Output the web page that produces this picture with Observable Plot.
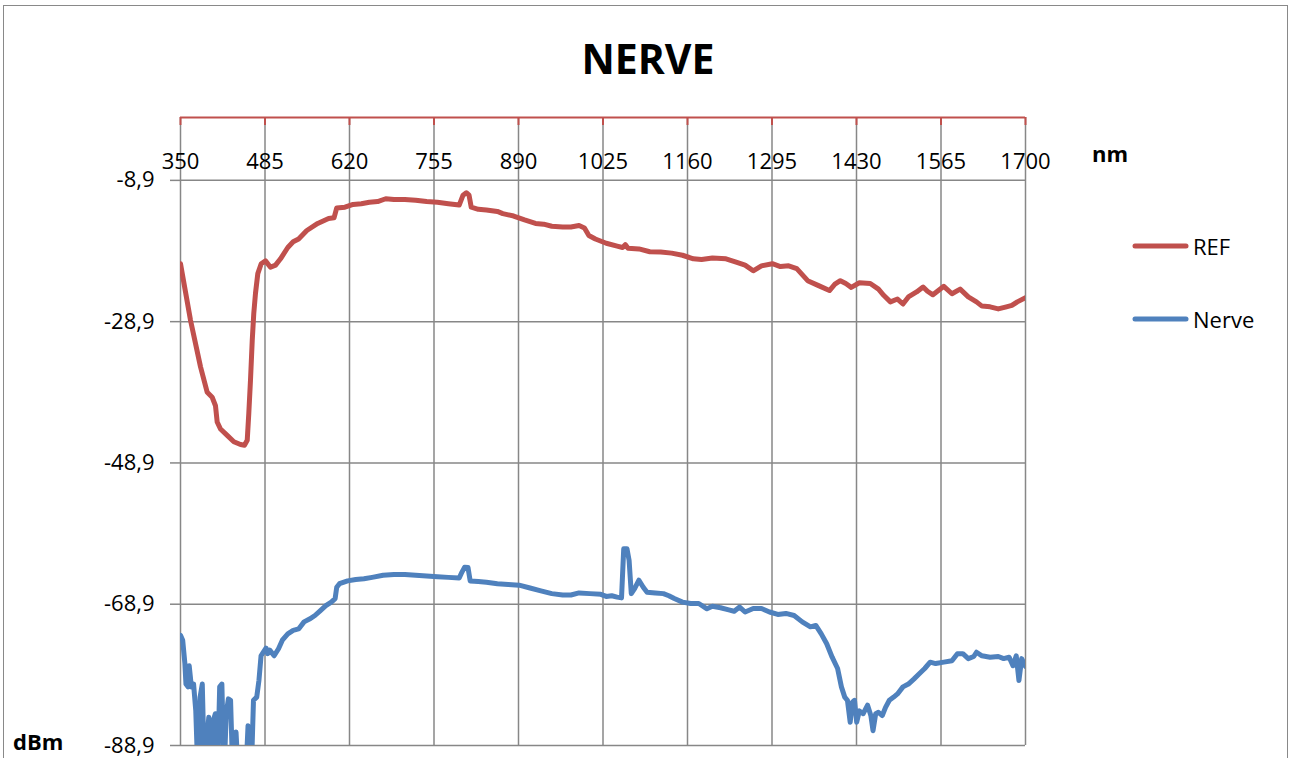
<!DOCTYPE html>
<html>
<head>
<meta charset="utf-8">
<script src="https://cdn.jsdelivr.net/npm/d3@7"></script>
<script src="https://cdn.jsdelivr.net/npm/@observablehq/plot@0.6"></script>
<style>
  body { margin: 0; background: #fff; }
  #chart { width: 1291px; height: 758px; overflow: hidden; }
</style>
</head>
<body>
<div id="chart"></div>
<script>
// Wavelength axis ticks (nm) and power axis ticks (dBm)
const xTicks = [350, 485, 620, 755, 890, 1025, 1160, 1295, 1430, 1565, 1700];
const yTicks = [-88.9, -68.9, -48.9, -28.9, -8.9];

const seriesNames = ["REF", "Nerve"];
const seriesColors = ["#C0504D", "#4F81BD"];

// Reference spectrum: [wavelength nm, power dBm]
const refPoints = [
  [350, -20.7], [366, -28.7], [382, -35.3], [392.7, -38.9], [400.6, -39.6], [405.9, -40.8],
  [408.6, -43.1], [413.9, -44.1], [424.6, -45.0], [435.2, -45.9], [445.9, -46.3], [452.2, -46.4],
  [456.6, -45.7], [459.1, -41.9], [461.8, -37.2], [464.6, -31.6], [467.1, -27.7], [469.8, -24.9],
  [473.5, -22.1], [478.9, -20.7], [485.8, -20.3], [493.8, -21.2], [501.8, -20.9], [509.8, -20.0],
  [521.4, -18.4], [530.0, -17.6], [538.7, -17.2], [551.8, -16.0], [569.2, -15.0], [586.6, -14.3],
  [595.3, -14.2], [599.6, -12.8], [612.7, -12.7], [625.7, -12.3], [638.8, -12.2], [651.8, -12.0],
  [664.9, -11.9], [677.9, -11.5], [691.0, -11.6], [708.4, -11.6], [725.8, -11.7], [743.2, -11.9],
  [760.5, -12.0], [777.9, -12.2], [795.3, -12.4], [801.4, -11.0], [806.6, -10.65], [811.0, -11.0],
  [814.5, -12.7], [825.8, -13.0], [838.8, -13.1], [856.2, -13.3], [864.9, -13.6], [882.3, -13.95],
  [899.7, -14.5], [917.1, -15.0], [930.2, -15.1], [943.2, -15.4], [960.6, -15.5], [973.7, -15.5],
  [986.7, -15.3], [995.4, -15.65], [1002.4, -16.7], [1012.8, -17.2], [1030.2, -17.8], [1047.6, -18.2],
  [1056.3, -18.4], [1060.6, -18.0], [1065.0, -18.5], [1082.4, -18.6], [1099.8, -19.0], [1117.2, -19.05],
  [1134.6, -19.2], [1152.0, -19.5], [1169.4, -20.0], [1182.4, -20.1], [1199.8, -19.9], [1221.5, -20.0],
  [1238.9, -20.5], [1252.0, -20.9], [1265.0, -21.7], [1278.1, -21.0], [1295.5, -20.7], [1308.5, -21.1],
  [1321.6, -21.0], [1334.6, -21.4], [1352.0, -23.1], [1369.4, -23.8], [1386.8, -24.5], [1395.5, -23.6],
  [1404.2, -23.1], [1412.9, -23.5], [1421.6, -24.05], [1434.6, -23.4], [1452.0, -23.5], [1465.1, -24.3],
  [1473.8, -25.2], [1484.2, -26.1], [1495.5, -25.7], [1504.2, -26.4], [1512.9, -25.4], [1526.0, -24.7],
  [1536.4, -24.0], [1543.4, -24.6], [1552.1, -25.1], [1569.5, -23.9], [1582.5, -24.95], [1595.6, -24.3],
  [1608.6, -25.4], [1621.7, -26.1], [1630.4, -26.7], [1643.4, -26.8], [1656.5, -27.1], [1669.5, -26.8],
  [1678.2, -26.6], [1686.9, -26.1], [1700, -25.5]
];

// Nerve spectrum: [wavelength nm, power dBm]; readings below -88.9 fall off the axis
const nervePoints = [
  [350.0, -73.3], [353.5, -74.0], [357.0, -77.3], [358.7, -80.2], [362.2, -80.6], [363.9, -77.6],
  [367.4, -80.6], [370.9, -80.2], [374.4, -84.0], [377.8, -93], [381.3, -82.05], [384.8, -80.2],
  [388.3, -93], [391.8, -88.2], [395.2, -84.9], [398.7, -93], [402.2, -85.4], [405.7, -84.4],
  [409.1, -93], [412.6, -80.6], [416.1, -80.2], [419.6, -93], [423.1, -84.4], [426.5, -82.3],
  [430.0, -82.5], [433.5, -93], [438.7, -87.0], [442.2, -93], [445.7, -93], [454.4, -93],
  [457.9, -86.1], [463.1, -93], [466.6, -82.5], [471.8, -82.05], [475.3, -79.7], [478.7, -76.2],
  [482.2, -75.7], [486.6, -75.1], [489.2, -75.9], [492.6, -75.4], [499.6, -76.2], [506.6, -75.2],
  [512.7, -74.0], [521.4, -73.1], [530.0, -72.6], [538.7, -72.4], [547.4, -71.4], [556.1, -71.0],
  [564.8, -70.5], [573.5, -69.8], [582.2, -69.1], [590.9, -68.6], [597.0, -68.1], [599.6, -66.5],
  [604.0, -66.0], [617.0, -65.6], [630.0, -65.4], [643.1, -65.3], [656.2, -65.1], [673.6, -64.8],
  [691.0, -64.7], [708.4, -64.7], [725.8, -64.8], [743.2, -64.9], [760.5, -65.0], [777.9, -65.1],
  [795.3, -65.2], [799.7, -64.35], [804.0, -63.65], [809.3, -63.7], [812.8, -65.6], [825.8, -65.7],
  [838.8, -65.8], [856.2, -66.0], [873.6, -66.1], [891.0, -66.2], [908.4, -66.6], [925.8, -67.0],
  [943.2, -67.4], [960.6, -67.6], [973.7, -67.6], [986.7, -67.3], [1004.1, -67.4], [1021.5, -67.5],
  [1030.2, -67.8], [1038.9, -67.7], [1047.6, -67.9], [1054.6, -68.0], [1058.1, -61.05], [1063.3, -61.05],
  [1066.7, -62.7], [1070.2, -67.4], [1075.5, -66.7], [1082.4, -65.5], [1089.3, -66.5], [1095.4, -67.2],
  [1108.5, -67.3], [1121.5, -67.4], [1130.2, -67.7], [1138.9, -68.1], [1152.0, -68.6], [1165.0, -68.8],
  [1178.0, -68.8], [1191.1, -69.55], [1199.8, -69.2], [1212.8, -69.4], [1225.9, -69.7], [1234.6, -69.9],
  [1243.3, -69.3], [1252.0, -70.0], [1265.0, -69.5], [1278.1, -69.5], [1291.1, -70.0], [1304.2, -70.35],
  [1317.2, -70.2], [1330.3, -70.5], [1343.3, -71.4], [1356.4, -72.1], [1365.0, -71.9], [1373.7, -73.1],
  [1382.4, -74.5], [1391.1, -76.4], [1399.8, -78.0], [1405.9, -80.6], [1411.2, -82.05], [1415.5, -82.5],
  [1419.9, -85.6], [1423.3, -82.8], [1426.8, -82.5], [1430.3, -85.6], [1434.6, -84.0], [1440.7, -84.4],
  [1447.7, -83.2], [1452.9, -84.65], [1456.4, -86.8], [1460.7, -84.4], [1465.1, -84.2], [1471.2, -84.65],
  [1476.4, -83.5], [1482.5, -82.5], [1489.4, -82.05], [1495.5, -81.6], [1504.2, -80.6], [1512.9, -80.2],
  [1521.6, -79.5], [1530.3, -78.75], [1539.0, -78.0], [1547.7, -77.1], [1556.4, -77.3], [1569.5, -77.1],
  [1582.5, -76.9], [1591.2, -75.9], [1599.9, -75.9], [1608.6, -76.6], [1617.3, -76.3], [1621.7, -75.7],
  [1630.4, -76.2], [1643.4, -76.4], [1656.5, -76.3], [1665.2, -76.6], [1673.9, -76.4], [1680.0, -77.6],
  [1685.2, -76.2], [1689.5, -79.7], [1693.9, -76.6], [1700.0, -77.7]
];

const gridColor = "#878787";
const font = "'Open Sans', sans-serif";
const fmt = d => d.toFixed(1).replace(".", ",");

const chart = Plot.plot({
  width: 1291,
  height: 758,
  marginLeft: 180,
  marginRight: 266,
  marginTop: 117,
  marginBottom: 13,
  style: { fontFamily: font, fontSize: "22px", color: "#000", background: "transparent", overflow: "visible" },
  x: { domain: [350, 1700], axis: null },
  y: { domain: [-88.9, 0], axis: null },
  marks: [
    Plot.gridX(xTicks, { stroke: gridColor, strokeOpacity: 1, strokeWidth: 1.5 }),
    Plot.gridY(yTicks, { stroke: gridColor, strokeOpacity: 1, strokeWidth: 1.5 }),
    Plot.axisY(yTicks, { tickSize: 10, tickPadding: 16, stroke: gridColor, strokeWidth: 1.5, tickFormat: fmt, fontSize: 22, fill: "#000" }),
    // top wavelength axis: red baseline at 0 dBm with short inward ticks
    Plot.ruleY([0], { stroke: seriesColors[0], strokeWidth: 2 }),
    Plot.ruleX(xTicks, { stroke: seriesColors[0], strokeWidth: 2, insetBottom: 620 }),
    Plot.text(xTicks, { x: d => d, text: d => String(d), frameAnchor: "top", dy: 36, fontSize: 22, fill: "#000" }),
    Plot.line(refPoints, { x: d => d[0], y: d => d[1], stroke: seriesColors[0], strokeWidth: 5, clip: true }),
    Plot.line(nervePoints, { x: d => d[0], y: d => d[1], stroke: seriesColors[1], strokeWidth: 5, clip: true })
  ]
});

const svg = d3.select(chart);

// outer chart border
svg.insert("rect", ":first-child")
  .attr("x", 3.5).attr("y", 5.5).attr("width", 1284).attr("height", 800)
  .attr("fill", "#fff").attr("stroke", "#898989").attr("stroke-width", 1);

svg.append("text")
  .attr("x", 648).attr("y", 58).attr("text-anchor", "middle").attr("dominant-baseline", "central")
  .attr("font-family", font).attr("font-weight", "bold").attr("font-size", 41).attr("fill", "#000")
  .text("NERVE");

svg.append("text")
  .attr("x", 1092).attr("y", 153).attr("text-anchor", "start").attr("dominant-baseline", "central")
  .attr("font-family", font).attr("font-weight", "bold").attr("font-size", 22).attr("fill", "#000")
  .text("nm");

svg.append("text")
  .attr("x", 13).attr("y", 741).attr("text-anchor", "start").attr("dominant-baseline", "central")
  .attr("font-family", font).attr("font-weight", "bold").attr("font-size", 22).attr("fill", "#000")
  .text("dBm");

// legend
const legend = svg.append("g");
seriesNames.forEach((name, i) => {
  const y = 246 + i * 73;
  legend.append("line")
    .attr("x1", 1135).attr("x2", 1186).attr("y1", y).attr("y2", y)
    .attr("stroke", seriesColors[i]).attr("stroke-width", 5).attr("stroke-linecap", "round");
  legend.append("text")
    .attr("x", 1193).attr("y", y).attr("text-anchor", "start").attr("dominant-baseline", "central")
    .attr("font-family", font).attr("font-size", 22).attr("fill", "#000")
    .text(name);
});

document.getElementById("chart").appendChild(chart);
</script>
</body>
</html>
